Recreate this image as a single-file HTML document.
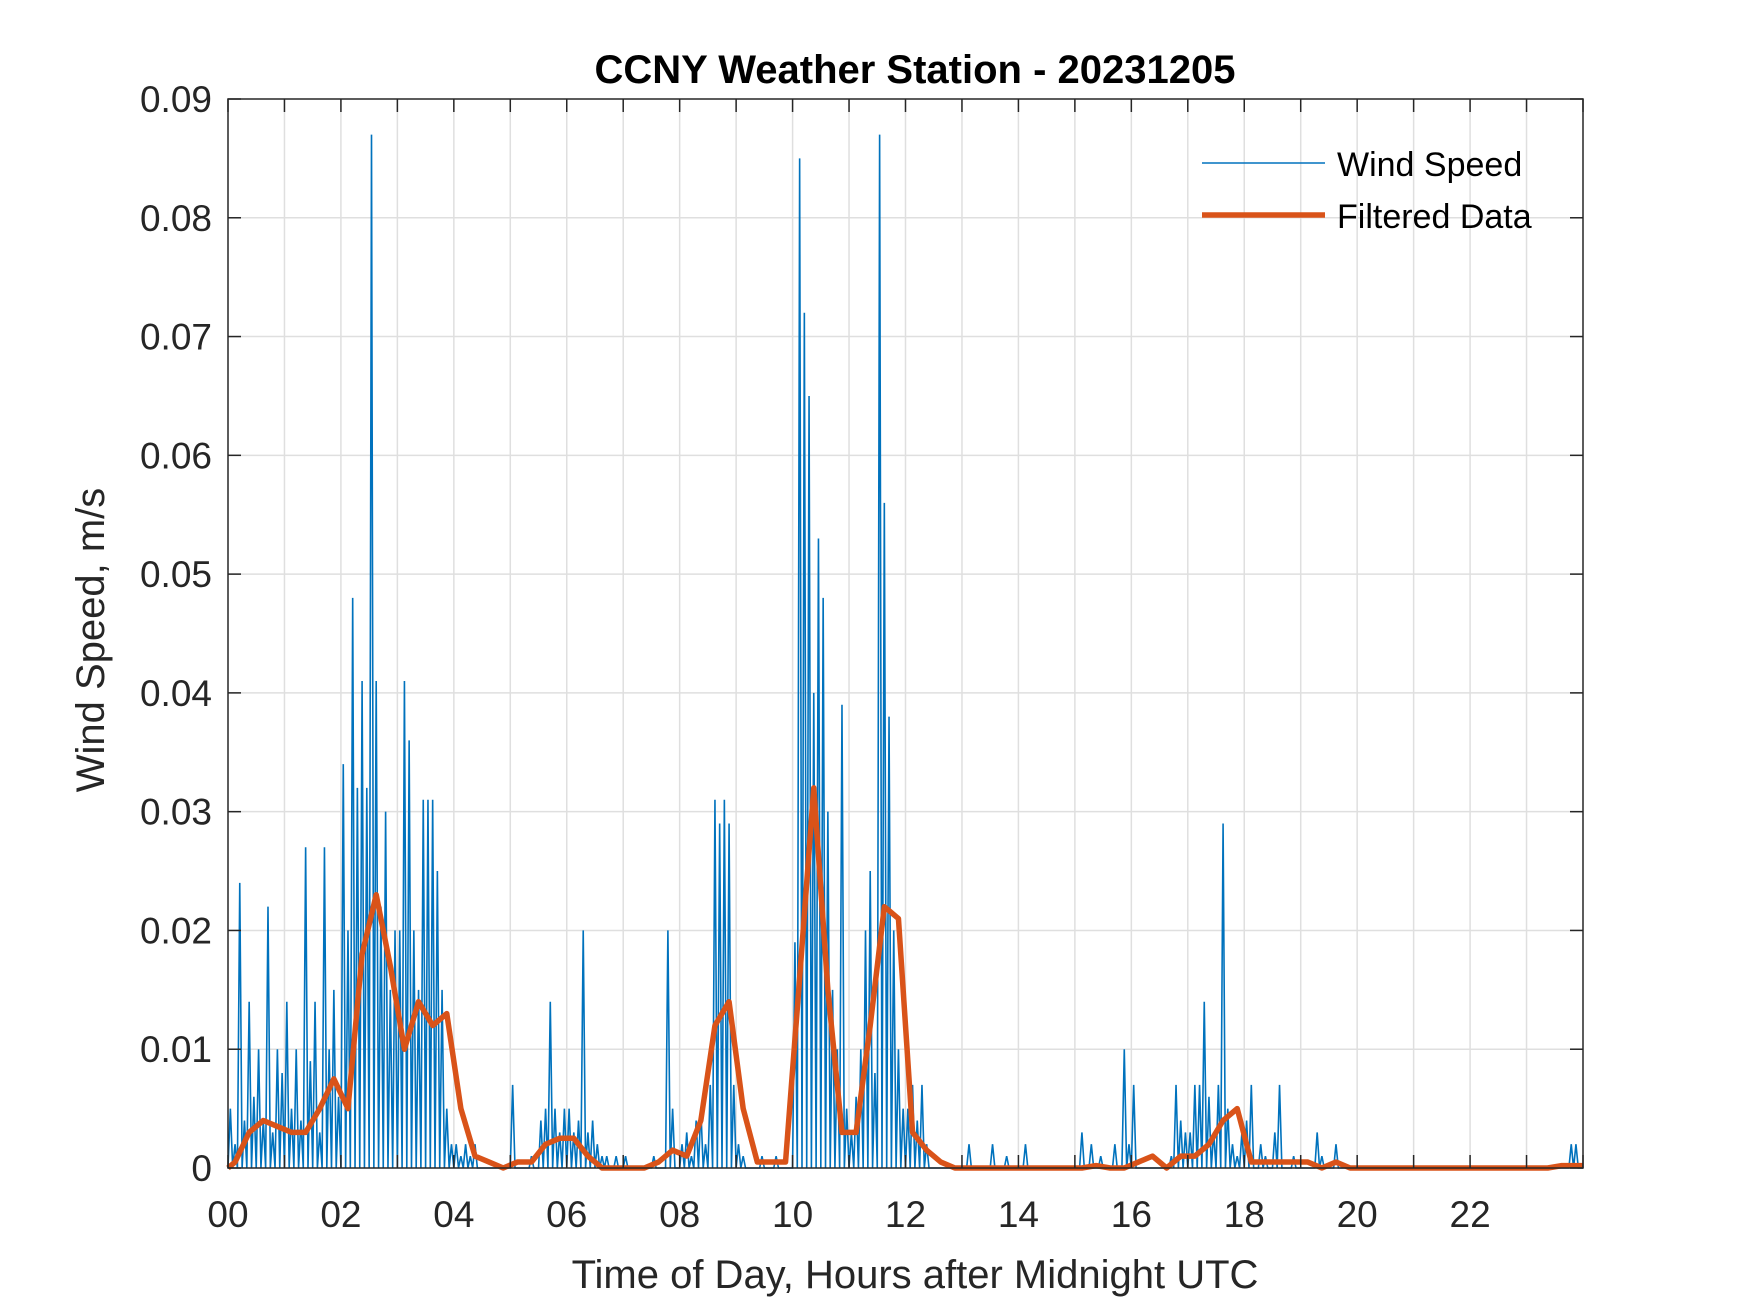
<!DOCTYPE html>
<html><head><meta charset="utf-8"><style>
html,body{margin:0;padding:0;background:#fff;}
svg{display:block;font-family:"Liberation Sans",Arial,sans-serif;}
</style></head><body>
<svg id="chart" width="1750" height="1313" viewBox="0 0 1750 1313" xmlns="http://www.w3.org/2000/svg">
<rect width="1750" height="1313" fill="#fff"/>
<g id="grid"></g>
<g id="series"></g>
<g id="axes"></g>
<text x="915" y="83" text-anchor="middle" font-size="40" font-weight="bold" fill="#000">CCNY Weather Station - 20231205</text>
<text x="915" y="1288" text-anchor="middle" font-size="40" fill="#262626">Time of Day, Hours after Midnight UTC</text>
<text transform="translate(104,640) rotate(-90)" text-anchor="middle" font-size="40" fill="#262626">Wind Speed, m/s</text>
<g>
  <line x1="1202" y1="163" x2="1325" y2="163" stroke="#0072BD" stroke-width="1.5"/>
  <text x="1337" y="176" font-size="34" fill="#000">Wind Speed</text>
  <line x1="1202" y1="215" x2="1325" y2="215" stroke="#D95319" stroke-width="5.5"/>
  <text x="1337" y="228" font-size="34" fill="#000">Filtered Data</text>
</g>
</svg>
<script>
// Wind speed, 5-minute samples (x0.001 m/s), 12 per hour
const windSpeed = [
5,2,24,4,14,6,10,4,22,3,10,8,
14,5,10,4,27,9,14,3,27,10,15,6,
34,20,48,32,41,32,87,41,22,30,15,20,
20,41,36,20,15,31,31,31,25,15,5,2,
2,1,2,1,2,0,0,0,0,0,0,0,
7,0,0,0,1,0,4,5,14,5,3,5,
5,3,4,20,3,4,2,1,1,0,1,0,
1,0,0,0,0,0,1,0,0,20,5,0,
2,3,1,4,5,2,7,31,29,31,29,7,
2,1,0,0,0,1,0,0,1,0,0,0,
19,85,72,65,40,53,48,30,15,10,39,5,
3,6,10,20,25,8,87,56,38,20,10,5,
5,7,4,7,2,0,0,0,0,0,0,0,
0,2,0,0,0,0,2,0,0,1,0,0,
0,2,0,0,0,0,0,0,0,0,0,0,
0,3,0,2,0,1,0,0,2,0,10,2,
7,0,0,0,0,0,0,0,1,7,4,3,
3,7,7,14,6,3,7,29,5,2,1,3,
4,7,0,2,1,0,3,7,0,0,1,0,
0,0,0,3,1,0,0,2,0,0,0,0,
0,0,0,0,0,0,0,0,0,0,0,0,
0,0,0,0,0,0,0,0,0,0,0,0,
0,0,0,0,0,0,0,0,0,0,0,0,
0,0,0,0,0,0,0,0,0,2,2,0];
// Filtered data, 15-minute samples (x0.001 m/s)
const filtered = [
0.5,3,4,3.5, 3,3,5,7.5, 5,18,23,17, 10,14,12,13,
5,1,0.5,0, 0.5,0.5,2,2.5, 2.5,1,0,0, 0,0,0.5,1.5,
1,4,12,14, 5,0.5,0.5,0.5, 16,32,15,3, 3,12,22,21,
3,1.5,0.5,0, 0,0,0,0, 0,0,0,0, 0,0.2,0,0,
0.5,1,0,1, 1,2,4,5, 0.5,0.5,0.5,0.5, 0.5,0,0.5,0,
0,0,0,0, 0,0,0,0, 0,0,0,0, 0,0,0.2,0.2];
const yTicks = ["0","0.01","0.02","0.03","0.04","0.05","0.06","0.07","0.08","0.09"];
const xTickLabels = ["00","02","04","06","08","10","12","14","16","18","20","22"];

const L=228,R=1583,T=99,B=1168;
const xS=h=>L+(R-L)*h/24;
const yS=v=>B-(B-T)*v/0.09;
const NS="http://www.w3.org/2000/svg";
function mk(tag,attrs,parent){const e=document.createElementNS(NS,tag);for(const k in attrs)e.setAttribute(k,attrs[k]);parent.appendChild(e);return e;}
const grid=document.getElementById('grid'),axes=document.getElementById('axes'),series=document.getElementById('series');
for(let h=1;h<24;h++){const g=mk('line',{x1:xS(h),x2:xS(h),y1:T,y2:B,stroke:'#dfdfdf','stroke-width':1.5},grid);

}
yTicks.forEach((t,i)=>{const y=yS(i*0.01);
if(i>0&&i<9){const g=mk('line',{x1:L,x2:R,y1:y,y2:y,stroke:'#dfdfdf','stroke-width':1.5},grid);

}
mk('line',{x1:L,x2:L+13,y1:y,y2:y,stroke:'#262626','stroke-width':1.5},axes);
mk('line',{x1:R,x2:R-13,y1:y,y2:y,stroke:'#262626','stroke-width':1.5},axes);
const tx=mk('text',{x:L-16,y:y+13,'text-anchor':'end','font-size':37,fill:'#262626'},axes);tx.textContent=t;

});
for(let h=0;h<=24;h++){const x=xS(h);
mk('line',{x1:x,x2:x,y1:B,y2:B-13,stroke:'#262626','stroke-width':1.5},axes);
mk('line',{x1:x,x2:x,y1:T,y2:T+13,stroke:'#262626','stroke-width':1.5},axes);}
xTickLabels.forEach((t,i)=>{const tx=mk('text',{x:xS(i*2),y:B+59,'text-anchor':'middle','font-size':37,fill:'#262626'},axes);tx.textContent=t;

});
const frame=mk('rect',{x:L,y:T,width:R-L,height:B-T,fill:'none',stroke:'#262626','stroke-width':1.5},axes);


const dt=24/windSpeed.length;let d='M'+xS(0)+','+yS(0);
windSpeed.forEach((v,i)=>{const h0=i*dt;d+=' L'+xS(h0+dt*0.5).toFixed(2)+','+yS(v*0.001).toFixed(2)+' L'+xS(h0+dt).toFixed(2)+','+yS(0).toFixed(2);});
const ws=mk('path',{d:d,fill:'none',stroke:'#0072BD','stroke-width':1.6,'stroke-linejoin':'miter'},series);


const ft=24/filtered.length;let d2='';
filtered.forEach((v,i)=>{d2+=(i?' L':'M')+xS(i*ft+ft/2).toFixed(2)+','+yS(v*0.001).toFixed(2);});
d2='M'+xS(0)+','+yS(0)+' L'+d2.slice(1)+' L'+xS(24)+','+yS(filtered[filtered.length-1]*0.001);
const fl=mk('path',{d:d2,fill:'none',stroke:'#D95319','stroke-width':5.5,'stroke-linejoin':'round'},series);


</script>
</body></html>
